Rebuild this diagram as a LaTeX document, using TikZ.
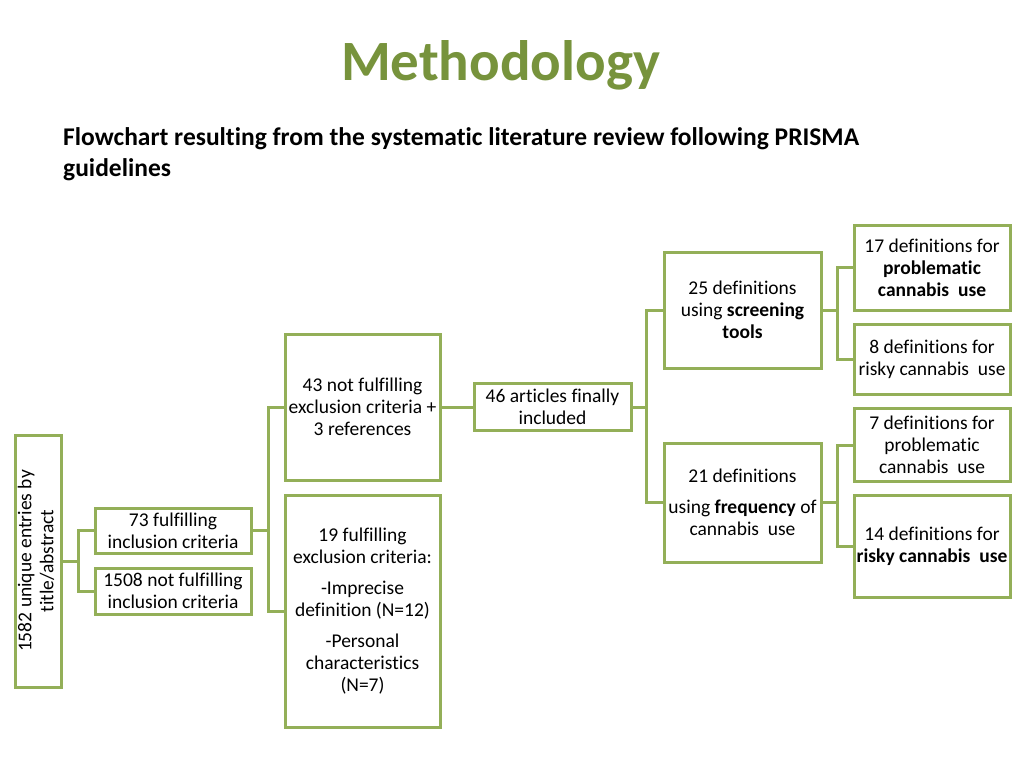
\documentclass[tikz,border=0pt]{standalone}
\usepackage{fontspec}
\setmainfont[Ligatures=NoCommon]{Carlito}
\usepackage{graphicx}
\definecolor{boxgreen}{HTML}{93AF58}
\definecolor{titlegreen}{HTML}{77933C}
\begin{document}
\begin{tikzpicture}[x=1pt,y=-1pt]
      \tikzstyle{process} = [rectangle, draw=boxgreen, line width=3pt, inner sep=1pt, align=center, font=\fontsize{19.5}{22}\selectfont]
      \tikzstyle{line} = [draw=boxgreen, line width=3pt]
      \useasboundingbox (0,0) rectangle (1024,768);

      \node (title) [anchor=base, text=titlegreen, font=\fontsize{57}{60}\selectfont\bfseries] at (500.5,80) {Methodology};
      \node (subtitle) [anchor=north west, align=left, inner sep=0pt, font=\fontsize{25.5}{31}\selectfont\bfseries] at (63,127) {Flowchart resulting from the systematic literature review following PRISMA\\guidelines};

      \node (unique-entries) [process, minimum width=46pt, minimum height=252pt] at (38,561) {\rotatebox{90}{\begin{tabular}{@{}c@{}}1582 unique entries by\\title/abstract\end{tabular}}};
      \node (incl-fulfil) [process, minimum width=156pt, minimum height=45pt] at (173,530.5) {73 fulfilling\\inclusion criteria};
      \node (incl-not) [process, minimum width=156pt, minimum height=46pt] at (173,591) {1508 not fulfilling\\inclusion criteria};
      \node (excl-not) [process, minimum width=155pt, minimum height=146pt] at (362.5,407) {43 not fulfilling\\exclusion criteria +\\3 references};
      \node (excl-fulfil) [process, minimum width=155pt, minimum height=232pt] at (362.5,611) {19 fulfilling\\exclusion criteria:\\[9pt]-Imprecise\\definition (N=12)\\[9pt]-Personal\\characteristics\\(N=7)};
      \node (included) [process, minimum width=157pt, minimum height=47pt] at (552.5,407) {46 articles finally\\included};
      \node (screening) [process, minimum width=157pt, minimum height=116pt] at (742.5,310) {25 definitions\\using \textbf{screening}\\\textbf{tools}};
      \node (frequency) [process, minimum width=157pt, minimum height=119pt] at (742.5,502.5) {21 definitions\\[9pt]using \textbf{frequency} of\\cannabis\ \ use};
      \node (screen-problem) [process, minimum width=156pt, minimum height=85pt] at (932,267.5) {17 definitions for\\\textbf{problematic}\\\textbf{cannabis\ \ use}};
      \node (screen-risky) [process, minimum width=156pt, minimum height=70pt] at (932,359) {8 definitions for\\risky cannabis\ \ use};
      \node (freq-problem) [process, minimum width=156pt, minimum height=73pt] at (932,445) {7 definitions for\\problematic\\cannabis\ \ use};
      \node (freq-risky) [process, minimum width=156pt, minimum height=102pt] at (932,546) {14 definitions for\\\textbf{risky cannabis\ \ use}};

      \draw [line] (unique-entries.east) -- ++(16,0) |- (incl-fulfil.west);
      \draw [line] (unique-entries.east) -- ++(16,0) |- (incl-not.west);
      \draw [line] (incl-fulfil.east) -- ++(16,0) |- (excl-not.west);
      \draw [line] (incl-fulfil.east) -- ++(16,0) |- (excl-fulfil.west);
      \draw [line] (excl-not) -- (included);
      \draw [line] (included.east) -- ++(14,0) |- (screening.west);
      \draw [line] (included.east) -- ++(14,0) |- (frequency.west);
      \draw [line] (screening.east) -- ++(15,0) |- (screen-problem.west);
      \draw [line] (screening.east) -- ++(15,0) |- (screen-risky.west);
      \draw [line] (frequency.east) -- ++(15,0) |- (freq-problem.west);
      \draw [line] (frequency.east) -- ++(15,0) |- (freq-risky.west);
    \end{tikzpicture}
\end{document}
